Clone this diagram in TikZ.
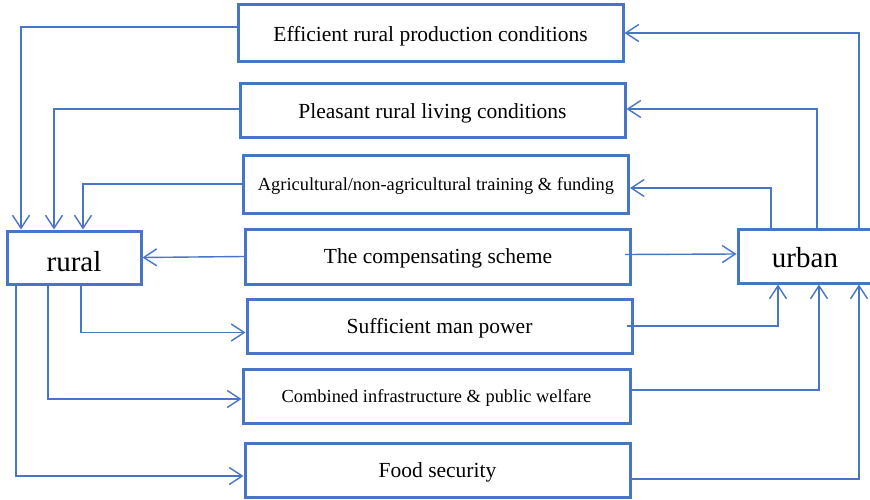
\documentclass[tikz,border=0pt]{standalone}
\usepackage{fontspec}
\setmainfont{Liberation Serif}
\usetikzlibrary{arrows.meta}
\definecolor{lineblue}{RGB}{72,118,198}
\begin{document}
\begin{tikzpicture}[x=1pt,y=-1pt,
  box/.style={draw=lineblue,line width=3pt,fill=white,inner sep=0pt,text depth=0pt,
    minimum width=385pt,minimum height=55pt,font=\fontsize{21.5}{24}\selectfont},
  smallbox/.style={box,font=\fontsize{18.4}{20}\selectfont},
  endbox/.style={draw=lineblue,line width=3pt,fill=white,inner sep=0pt,
    text depth=0pt,
    minimum width=134pt,minimum height=53pt,font=\fontsize{29}{32}\selectfont},
  conn/.style={draw=lineblue,line width=1.4pt,
    -{Straight Barb[length=13pt,width=17pt,line width=1.4pt]}}]
\useasboundingbox (0,0) rectangle (870,500);
\fill[white] (0,0) rectangle (870,500);

% central boxes
\node[box,minimum height=57pt] (b1) at (430.5,33.5) {Efficient rural production conditions};
\node[box,minimum height=54pt] (b2) at (432.5,111) {Pleasant rural living conditions};
\node[smallbox,minimum height=57pt] (b3) at (436,184.5) {Agricultural/non-agricultural training \& funding};
\node[box] (b4) at (438,256.5) {The compensating scheme};
\node[box,minimum height=54pt] (b5) at (439.5,326) {Sufficient man power};
\node[smallbox,minimum width=387pt,minimum height=54pt] (b6) at (436.5,396) {Combined infrastructure \& public welfare};
\node[box,minimum height=54pt] (b7) at (437.5,470) {Food security};

% the two sides
\node[endbox,text height=28pt] (rural) at (74,257.5) {rural};
\node[endbox,text height=23pt,minimum height=54pt] (urban) at (805,256) {urban};

% flows into rural
\draw[conn] ([yshift=6.5pt]b1.west) -| ([xshift=-53pt]rural.north);
\draw[conn] ([yshift=2pt]b2.west) -| ([xshift=-20pt]rural.north);
\draw[conn] ([yshift=0.5pt]b3.west) -| ([xshift=9pt]rural.north);
\draw[conn] (b4.west) -- (rural.east);

% flows out of rural
\draw[conn] ([xshift=7pt]rural.south) |- ([yshift=-6.5pt]b5.west);
\draw[conn] ([xshift=-26pt]rural.south) |- ([yshift=-3pt]b6.west);
\draw[conn] ([xshift=-58pt]rural.south) |- ([yshift=-6pt]b7.west);

% flows into urban
\draw[conn] ([xshift=-7pt,yshift=2pt]b4.east) -- ([yshift=2pt]urban.west);
\draw[conn] ([xshift=-7pt]b5.east) -| ([xshift=-27pt]urban.south);
\draw[conn] ([xshift=-3pt,yshift=6pt]b6.east) -| ([xshift=14pt]urban.south);
\draw[conn] ([yshift=-9pt]b7.east) -| ([xshift=54pt]urban.south);

% flows out of urban
\draw[conn] ([xshift=-34pt]urban.north) |- ([yshift=-3.5pt]b3.east);
\draw[conn] ([xshift=12pt]urban.north) |- ([yshift=2pt]b2.east);
\draw[conn] ([xshift=54pt]urban.north) |- ([yshift=0.5pt]b1.east);
\end{tikzpicture}
\end{document}
